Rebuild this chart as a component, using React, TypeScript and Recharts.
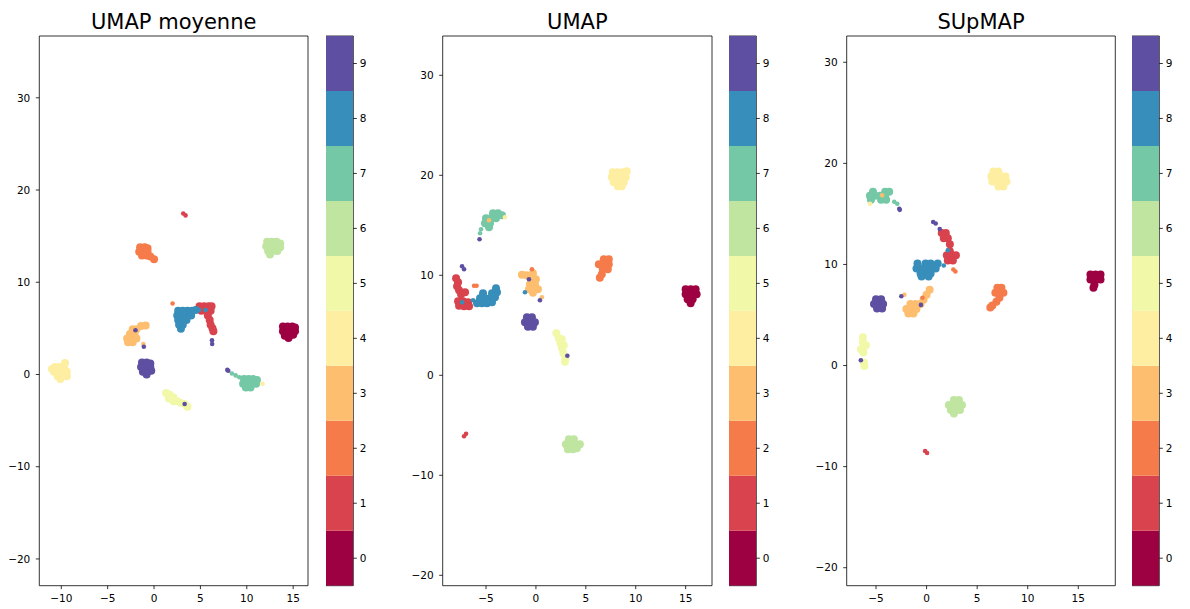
import React from 'react';
import { ScatterChart, Scatter, XAxis, YAxis, ReferenceArea, BarChart, Bar } from 'recharts';

type Pt = [number, number, number];

const CLASS_LABELS = [0, 1, 2, 3, 4, 5, 6, 7, 8, 9];
const CLASS_COLORS = ['#9e0142', '#d8434e', '#f67b4a', '#fdbe6f', '#feeea2', '#f1f9a9', '#bfe5a0', '#75c8a5', '#388eba', '#5e4fa2'];
const TITLES = ['UMAP moyenne', 'UMAP', 'SUpMAP'];

const moyXTicks = [-10, -5, 0, 5, 10, 15];
const moyYTicks = [-20, -10, 0, 10, 20, 30];
const umapXTicks = [-5, 0, 5, 10, 15];
const umapYTicks = [-20, -10, 0, 10, 20, 30];
const supXTicks = [-5, 0, 5, 10, 15];
const supYTicks = [-20, -10, 0, 10, 20, 30];
const cbTicks = [0, 1, 2, 3, 4, 5, 6, 7, 8, 9];

const moyXDomain: [number, number] = [-12.37, 16.6];
const moyYDomain: [number, number] = [-22.9, 36.7];
const umapXDomain: [number, number] = [-9.34, 17.64];
const umapYDomain: [number, number] = [-21.04, 33.93];
const supXDomain: [number, number] = [-7.9, 18.66];
const supYDomain: [number, number] = [-21.78, 32.6];

// UMAP moyenne: cluster cores [x, y, class]
const moyBlob: Pt[] = [
  [13.9, 5.2, 0], [14.4, 5.2, 0], [14.9, 5.2, 0], [15.2, 5.1, 0],
  [13.9, 4.7, 0], [14.4, 4.7, 0], [14.9, 4.7, 0], [15.2, 4.7, 0],
  [14.1, 4.2, 0], [14.6, 4.2, 0], [15.0, 4.3, 0], [14.5, 3.95, 0],
  [4.9, 7.4, 1], [5.4, 7.4, 1], [5.9, 7.4, 1], [6.2, 7.4, 1], [5.1, 6.9, 1], [5.6, 6.9, 1], [6.1, 6.9, 1],
  [5.8, 6.4, 1], [6.0, 5.9, 1], [6.1, 5.4, 1], [6.3, 5.0, 1], [6.4, 4.7, 1],
  [-1.5, 13.8, 2], [-1.0, 13.8, 2], [-0.7, 13.7, 2], [-1.6, 13.3, 2], [-1.1, 13.3, 2], [-0.7, 13.3, 2],
  [-1.3, 12.9, 2], [-0.8, 12.9, 2], [-0.4, 12.8, 2], [0.0, 12.5, 2],
  [-1.4, 5.25, 3], [-0.9, 5.3, 3], [-2.3, 4.9, 3], [-1.9, 4.9, 3], [-2.6, 4.4, 3], [-2.1, 4.4, 3],
  [-2.9, 3.9, 3], [-2.4, 3.9, 3], [-1.9, 3.9, 3], [-2.8, 3.5, 3], [-2.3, 3.5, 3],
  [-9.6, 1.25, 4], [-10.7, 0.8, 4], [-10.2, 0.8, 4], [-9.7, 0.8, 4], [-10.8, 0.3, 4], [-10.3, 0.3, 4],
  [-9.8, 0.3, 4], [-9.4, 0.3, 4], [-10.4, -0.2, 4], [-9.9, -0.2, 4], [-9.4, -0.2, 4], [-10.1, -0.5, 4], [-11.0, 0.6, 4],
  [1.3, -2.0, 5], [1.7, -2.2, 5], [1.6, -2.6, 5], [2.1, -2.5, 5], [2.1, -2.9, 5], [2.5, -2.9, 5],
  [2.9, -3.1, 5], [3.3, -3.2, 5], [3.6, -3.5, 5],
  [12.2, 14.4, 6], [12.7, 14.4, 6], [13.2, 14.4, 6], [13.6, 14.2, 6], [12.1, 13.9, 6], [12.6, 13.9, 6],
  [13.1, 13.9, 6], [13.6, 13.8, 6], [12.3, 13.4, 6], [12.8, 13.4, 6], [13.3, 13.4, 6], [12.5, 13.0, 6],
  [9.7, -0.5, 7], [10.2, -0.5, 7], [10.7, -0.5, 7], [11.1, -0.6, 7], [9.6, -1.0, 7], [10.1, -1.0, 7],
  [10.6, -1.0, 7], [11.0, -1.0, 7], [9.9, -1.4, 7], [10.4, -1.4, 7],
  [2.6, 6.9, 8], [3.1, 6.9, 8], [3.6, 6.9, 8], [4.1, 6.9, 8], [4.5, 7.0, 8], [2.5, 6.4, 8], [3.0, 6.4, 8],
  [3.5, 6.4, 8], [4.0, 6.4, 8], [2.6, 5.9, 8], [3.1, 5.9, 8], [3.5, 5.9, 8], [2.7, 5.4, 8], [3.1, 5.4, 8], [2.9, 4.95, 8],
  [-1.3, 1.3, 9], [-0.8, 1.3, 9], [-0.4, 1.2, 9], [-1.4, 0.8, 9], [-0.9, 0.8, 9], [-0.4, 0.8, 9],
  [-1.2, 0.3, 9], [-0.7, 0.3, 9], [-0.3, 0.4, 9], [-0.8, 0.0, 9],
];

// UMAP moyenne: isolated points
const moyStray: Pt[] = [
  [3.15, 17.45, 1], [3.4, 17.25, 1], [2.0, 7.7, 2],
  [8.4, 0.1, 7], [8.8, -0.1, 7], [9.2, -0.3, 7],
  [4.85, 7.0, 8], [5.55, 7.0, 8], [6.25, 3.7, 9], [6.27, 3.3, 9],
  [-2.0, 4.8, 9], [-1.15, 3.3, 3], [-1.1, 3.0, 9], [3.3, -3.2, 9],
  [7.9, 0.5, 9], [8.0, 0.4, 9], [11.7, -1.0, 4],
];

// UMAP: cluster cores
const umapBlob: Pt[] = [
  [15.0, 8.6, 0], [15.5, 8.6, 0], [16.0, 8.6, 0], [15.0, 8.1, 0], [15.5, 8.1, 0], [16.1, 8.1, 0],
  [15.2, 7.6, 0], [15.7, 7.6, 0], [15.5, 7.2, 0],
  [-8.0, 9.7, 1], [-7.8, 9.3, 1], [-7.9, 8.9, 1], [-7.7, 8.5, 1], [-7.5, 8.1, 1], [-7.1, 8.3, 1],
  [-7.8, 7.4, 1], [-7.3, 7.4, 1], [-6.8, 7.3, 1], [-7.7, 6.95, 1], [-7.2, 6.9, 1], [-6.7, 6.9, 1],
  [6.8, 11.6, 2], [7.3, 11.6, 2], [6.3, 11.1, 2], [6.8, 11.1, 2], [7.3, 11.1, 2], [6.7, 10.6, 2],
  [7.2, 10.6, 2], [6.6, 10.1, 2], [6.4, 9.75, 2],
  [-1.4, 10.05, 3], [-0.95, 10.0, 3], [-0.4, 9.6, 3], [0.0, 9.6, 3], [-0.6, 9.1, 3], [-0.1, 9.1, 3],
  [-0.7, 8.6, 3], [-0.2, 8.6, 3], [0.2, 8.6, 3], [-0.3, 8.25, 3], [-0.3, 10.2, 3],
  [7.7, 20.3, 4], [8.2, 20.3, 4], [8.7, 20.3, 4], [9.1, 20.4, 4], [7.6, 19.8, 4], [8.1, 19.8, 4],
  [8.6, 19.8, 4], [9.0, 19.8, 4], [7.8, 19.3, 4], [8.3, 19.3, 4], [8.8, 19.3, 4], [8.2, 18.9, 4], [8.6, 18.9, 4],
  [2.05, 4.2, 5], [2.3, 3.7, 5], [2.6, 3.6, 5], [2.45, 3.2, 5], [2.8, 3.0, 5], [2.6, 2.7, 5],
  [2.75, 2.2, 5], [2.95, 1.7, 5], [2.9, 1.35, 5],
  [3.3, -6.4, 6], [3.8, -6.4, 6], [3.0, -6.9, 6], [3.5, -6.9, 6], [4.0, -6.9, 6], [4.4, -6.9, 6],
  [3.2, -7.4, 6], [3.7, -7.4, 6], [4.1, -7.3, 6],
  [-4.3, 16.2, 7], [-3.8, 16.2, 7], [-3.4, 16.0, 7], [-5.0, 15.7, 7], [-4.5, 15.7, 7], [-4.0, 15.7, 7],
  [-5.1, 15.2, 7], [-4.6, 15.2, 7], [-4.7, 14.8, 7],
  [-5.9, 7.2, 8], [-5.4, 7.2, 8], [-4.9, 7.2, 8], [-4.4, 7.3, 8], [-5.6, 7.7, 8], [-5.1, 7.7, 8],
  [-4.6, 7.7, 8], [-4.1, 7.8, 8], [-5.3, 8.2, 8], [-4.4, 8.2, 8], [-3.9, 8.3, 8], [-4.0, 8.7, 8],
  [-0.9, 5.8, 9], [-0.4, 5.8, 9], [-1.1, 5.3, 9], [-0.6, 5.3, 9], [-0.1, 5.3, 9], [-0.8, 4.85, 9], [-0.3, 4.85, 9],
];

// UMAP: isolated points
const umapStray: Pt[] = [
  [-5.5, 14.6, 7], [-5.6, 14.2, 7], [-5.65, 13.6, 9], [-3.1, 15.8, 4], [-4.7, 15.5, 3],
  [-7.4, 10.9, 9], [-7.2, 10.6, 9], [-7.4, 7.3, 8], [-6.2, 8.95, 2], [-5.95, 8.95, 2], [-6.3, 7.5, 8],
  [-0.4, 10.6, 2], [-0.7, 9.6, 9], [-1.1, 8.3, 8], [0.6, 7.8, 3], [0.4, 7.5, 9],
  [3.15, 1.95, 9], [-7.2, -6.1, 1], [-7.0, -5.85, 1],
];

// SUpMAP: cluster cores
const supBlob: Pt[] = [
  [16.2, 9.0, 0], [16.7, 9.0, 0], [17.2, 9.0, 0], [16.2, 8.5, 0], [16.7, 8.5, 0], [17.2, 8.5, 0],
  [16.6, 8.0, 0], [16.5, 7.7, 0],
  [1.5, 13.1, 1], [1.9, 13.1, 1], [1.7, 12.6, 1], [2.1, 12.6, 1], [2.3, 12.0, 1], [2.3, 11.3, 1],
  [2.0, 10.9, 1], [2.5, 10.9, 1], [2.9, 10.9, 1], [2.1, 10.4, 1], [2.6, 10.4, 1],
  [7.0, 7.7, 2], [7.4, 7.7, 2], [6.8, 7.2, 2], [7.3, 7.2, 2], [7.6, 7.2, 2], [7.2, 6.7, 2],
  [6.9, 6.3, 2], [6.5, 5.95, 2], [6.3, 5.75, 2],
  [-1.6, 6.1, 3], [-1.1, 6.1, 3], [-0.6, 6.1, 3], [-2.0, 5.6, 3], [-1.5, 5.6, 3], [-1.0, 5.6, 3],
  [-1.8, 5.15, 3], [-1.3, 5.15, 3], [-0.3, 6.5, 3], [0.0, 7.0, 3], [0.3, 7.5, 3],
  [6.6, 19.2, 4], [7.1, 19.2, 4], [6.4, 18.7, 4], [6.9, 18.7, 4], [7.4, 18.7, 4], [7.8, 18.7, 4],
  [6.5, 18.2, 4], [7.0, 18.2, 4], [7.5, 18.2, 4], [7.9, 18.2, 4], [7.1, 17.7, 4], [7.6, 17.7, 4],
  [-6.3, 2.8, 5], [-6.3, 2.3, 5], [-6.0, 2.0, 5], [-6.2, 1.8, 5], [-6.5, 1.6, 5], [-6.25, 1.3, 5],
  [-6.2, 0.3, 5], [-6.15, -0.05, 5],
  [2.7, -3.4, 6], [3.2, -3.4, 6], [2.2, -3.9, 6], [2.7, -3.9, 6], [3.2, -3.9, 6], [3.5, -3.9, 6],
  [2.4, -4.4, 6], [2.9, -4.4, 6], [3.3, -4.4, 6], [2.7, -4.75, 6],
  [-5.3, 17.2, 7], [-4.1, 17.2, 7], [-3.7, 17.2, 7], [-5.6, 16.8, 7], [-5.1, 16.8, 7], [-4.6, 16.8, 7],
  [-4.1, 16.8, 7], [-5.5, 16.4, 7], [-4.5, 16.4, 7], [-4.0, 16.4, 7],
  [-0.9, 10.1, 8], [-0.1, 10.1, 8], [0.4, 10.1, 8], [1.1, 10.1, 8], [-1.0, 9.6, 8], [-0.5, 9.6, 8],
  [0.0, 9.6, 8], [0.5, 9.6, 8], [0.9, 9.6, 8], [-0.6, 9.1, 8], [-0.1, 9.1, 8], [0.4, 9.1, 8],
  [-0.5, 8.8, 8], [0.2, 8.8, 8],
  [-5.0, 6.55, 9], [-4.5, 6.55, 9], [-5.2, 6.1, 9], [-4.7, 6.1, 9], [-4.3, 6.1, 9], [-4.9, 5.65, 9], [-4.4, 5.65, 9],
];

// SUpMAP: isolated points
const supStray: Pt[] = [
  [-3.2, 16.2, 7], [-2.9, 16.0, 7], [-2.7, 15.5, 9], [-2.65, 15.4, 9], [-5.6, 16.0, 4], [-4.4, 16.85, 3],
  [0.65, 14.2, 9], [0.9, 14.05, 9], [1.3, 13.5, 9], [2.1, 11.4, 8], [1.7, 9.9, 8],
  [2.65, 9.5, 2], [2.85, 9.3, 2], [-2.5, 6.85, 9], [-2.2, 7.0, 3], [-0.56, 6.0, 9], [-0.4, 6.7, 2],
  [-6.5, 0.52, 9], [-0.15, -8.45, 1], [0.05, -8.65, 1],
];

const FONT = '"DejaVu Sans", sans-serif';
const fmt = (v: number) => String(v).replace('-', '\u2212');
const tickStyle = { fontSize: 10.5, fill: '#000', fontFamily: FONT };
const tickLineStyle = { stroke: '#000', strokeWidth: 0.8 };

type PanelProps = {
  left: number;
  yAxisW: number;
  rightM: number;
  xDomain: [number, number];
  yDomain: [number, number];
  xTicks: number[];
  yTicks: number[];
  blob: Pt[];
  stray: Pt[];
};

function toXY(pts: Pt[], c: number) {
  return pts.filter((p) => p[2] === c).map((p) => ({ x: p[0], y: p[1] }));
}

function Panel({ left, yAxisW, rightM, xDomain, yDomain, xTicks, yTicks, blob, stray }: PanelProps) {
  return (
    <div style={{ position: 'absolute', left, top: 0 }}>
      <ScatterChart width={320} height={609} margin={{ top: 36, right: rightM, bottom: 0, left: 0 }}>
        <XAxis
          type="number"
          dataKey="x"
          domain={xDomain}
          ticks={xTicks}
          allowDataOverflow
          tickFormatter={fmt}
          height={23.3}
          axisLine={false}
          tickSize={3.5}
          tickMargin={5}
          tick={tickStyle}
          tickLine={tickLineStyle}
        />
        <YAxis
          type="number"
          dataKey="y"
          domain={yDomain}
          ticks={yTicks}
          allowDataOverflow
          tickFormatter={fmt}
          width={yAxisW}
          axisLine={false}
          tickSize={3.5}
          tickMargin={5.5}
          tick={tickStyle}
          tickLine={tickLineStyle}
        />
        {CLASS_LABELS.map((c) => (
          <Scatter
            key={'b' + c}
            data={toXY(blob, c)}
            fill={CLASS_COLORS[c]}
            isAnimationActive={false}
            shape={(p: any) => <circle cx={p.cx} cy={p.cy} r={4} fill={CLASS_COLORS[c]} />}
          />
        ))}
        {CLASS_LABELS.map((c) => (
          <Scatter
            key={'s' + c}
            data={toXY(stray, c)}
            fill={CLASS_COLORS[c]}
            isAnimationActive={false}
            shape={(p: any) => <circle cx={p.cx} cy={p.cy} r={2.3} fill={CLASS_COLORS[c]} />}
          />
        ))}
        <ReferenceArea
          x1={xDomain[0]}
          x2={xDomain[1]}
          y1={yDomain[0]}
          y2={yDomain[1]}
          fill="none"
          fillOpacity={0}
          stroke="#000"
          strokeWidth={0.8}
          ifOverflow="visible"
        />
      </ScatterChart>
    </div>
  );
}

function Colorbar({ left }: { left: number }) {
  const row: Record<string, number>[] = [Object.fromEntries(CLASS_LABELS.map((c) => ['c' + c, 1]))];
  return (
    <div style={{ position: 'absolute', left, top: 0 }}>
      <BarChart
        width={57.3}
        height={609}
        data={row}
        margin={{ top: 36, right: 0, bottom: 23.3, left: 0 }}
        barCategoryGap={0}
      >
        <XAxis hide />
        <YAxis yAxisId="bar" type="number" domain={[0, 10]} hide allowDataOverflow />
        <YAxis
          yAxisId="lab"
          orientation="right"
          type="number"
          domain={[-0.5, 9.5]}
          ticks={cbTicks}
          allowDataOverflow
          width={30}
          axisLine={false}
          tickSize={3.5}
          tickMargin={3}
          tick={tickStyle}
          tickLine={tickLineStyle}
        />
        {CLASS_LABELS.map((c) => (
          <Bar key={c} yAxisId="bar" dataKey={'c' + c} stackId="s" fill={CLASS_COLORS[c]} isAnimationActive={false} />
        ))}
        <ReferenceArea yAxisId="bar" y1={0} y2={10} fill="none" fillOpacity={0} stroke="#000" strokeWidth={0.8} ifOverflow="visible" />
      </BarChart>
    </div>
  );
}

export default function App() {
  return (
    <div style={{ position: 'absolute', left: 0, top: 0, width: 1190, height: 609, background: '#fff', fontFamily: FONT }}>
      <Panel left={0} yAxisW={39.3} rightM={12} xDomain={moyXDomain} yDomain={moyYDomain} xTicks={moyXTicks} yTicks={moyYTicks} blob={moyBlob} stray={moyStray} />
      <Colorbar left={325.5} />
      <Panel left={400} yAxisW={42.7} rightM={8} xDomain={umapXDomain} yDomain={umapYDomain} xTicks={umapXTicks} yTicks={umapYTicks} blob={umapBlob} stray={umapStray} />
      <Colorbar left={729.2} />
      <Panel left={800} yAxisW={46.7} rightM={4.7} xDomain={supXDomain} yDomain={supYDomain} xTicks={supXTicks} yTicks={supYTicks} blob={supBlob} stray={supStray} />
      <Colorbar left={1132.3} />
      <svg width={1190} height={609} style={{ position: 'absolute', left: 0, top: 0, pointerEvents: 'none' }}>
        <text x={173.7} y={29} textAnchor="middle" fontSize={21} fontFamily={FONT} fill="#000">{TITLES[0]}</text>
        <text x={577.3} y={29} textAnchor="middle" fontSize={21} fontFamily={FONT} fill="#000">{TITLES[1]}</text>
        <text x={981} y={29} textAnchor="middle" fontSize={21} fontFamily={FONT} fill="#000">{TITLES[2]}</text>
      </svg>
    </div>
  );
}
